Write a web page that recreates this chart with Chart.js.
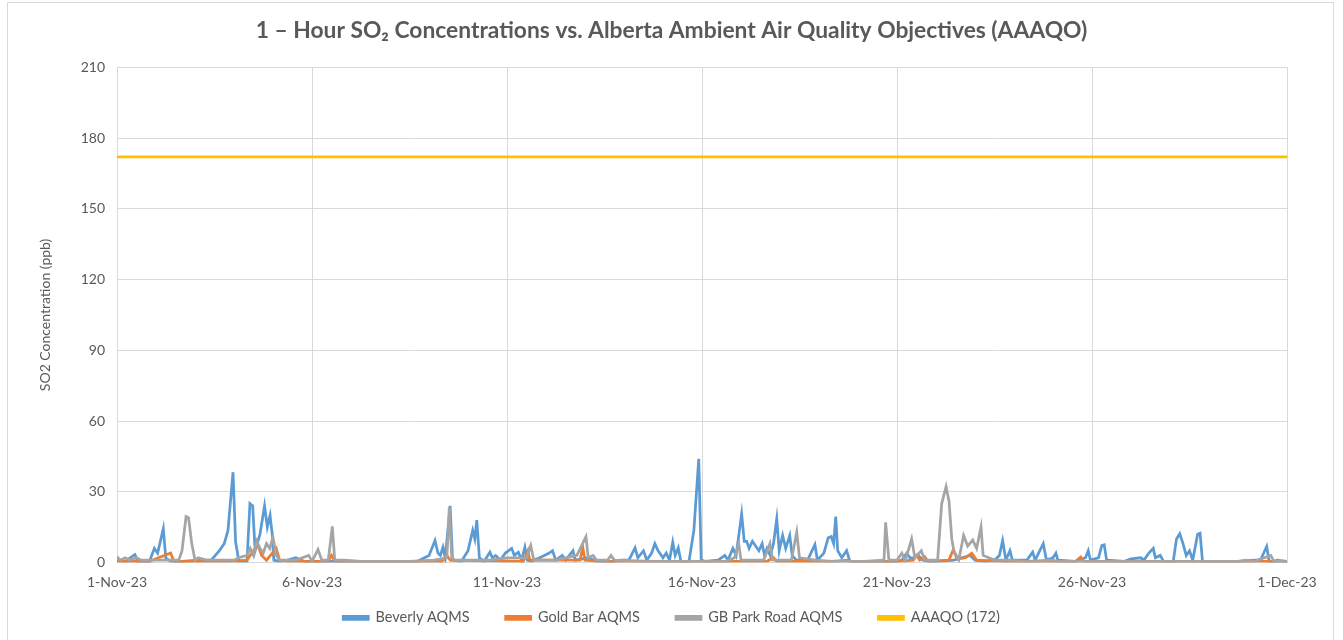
<!DOCTYPE html>
<html>
<head>
<meta charset="utf-8">
<script src="https://cdn.jsdelivr.net/npm/chart.js@4.4.0/dist/chart.umd.min.js"></script>
<style>
  body { margin: 0; background: #fff; }
  #frame { position: absolute; left: 7px; top: 2px; width: 1325px; height: 700px;
           border: 1px solid #d9d9d9; border-bottom: none; }
  #wrap { position: absolute; left: 0; top: 0; width: 1343px; height: 640px; }
</style>
</head>
<body>
<div id="frame"></div>
<div id="wrap"><canvas id="graph" width="1343" height="640"></canvas></div>
<script>
// x values are hours since 1-Nov-23 00:00
const tickLabels = ['1-Nov-23', '6-Nov-23', '11-Nov-23', '16-Nov-23', '21-Nov-23', '26-Nov-23', '1-Dec-23'];

const beverlyHours = [0, 5, 11, 13, 20, 23, 25, 28.5, 30, 33, 40, 50, 58, 63, 66, 68.3, 71.4, 73, 75, 80, 81.8, 83.5, 85, 88, 90.8, 92.5, 94.2, 95.5, 96.5, 100, 105, 110, 115, 130, 150, 170, 185, 192, 195.7, 197.5, 199, 200.6, 202, 205, 206.5, 212, 216, 218.9, 220.2, 221.4, 223, 226, 229.5, 231, 233, 236, 239, 242.9, 244.5, 247, 249, 251, 252.5, 255, 260, 263, 266, 268, 270, 274, 276, 280.6, 282, 290, 295, 305, 310, 315, 318.8, 320.5, 324, 326, 329, 331, 333, 336, 338, 340, 342, 343.5, 345.4, 347, 352, 355, 358, 359.5, 362, 370, 374, 376, 379, 381, 384.4, 386, 387.5, 389, 391, 393, 395, 397, 398.5, 400, 402, 404, 406, 407.5, 409.6, 411.5, 414, 415.5, 418, 425, 427, 429.5, 431, 435, 437.7, 439.5, 441, 442.3, 443.5, 446, 449, 451, 460, 480, 483, 486, 488, 490, 493, 496, 500, 505, 515, 520, 525, 528, 534, 540, 543, 545, 547, 549.5, 551, 556, 560, 563.5, 565, 570, 572, 576, 577.8, 579, 590, 596, 597.7, 599, 604, 606, 607.5, 609, 620, 624, 630, 632, 635, 637.7, 639, 642, 644, 650, 652, 654, 656, 658, 660, 662, 665, 666.5, 668, 690, 700, 702, 704, 707.5, 709, 715, 720];
const beverlyValues = [1, 0.5, 3.4, 0.5, 0.5, 6, 4, 14.4, 2, 0.5, 0.5, 1, 1, 5, 8, 13.6, 38.3, 8.6, 0.5, 0.5, 25, 24, 5, 12, 24, 15, 20, 12, 1, 0.5, 1, 2, 0.5, 0.5, 0.5, 0.5, 0.5, 3, 9.3, 4, 3, 6.5, 2, 24, 1, 0.5, 5, 13.6, 10, 18, 2, 0.5, 4.4, 2, 3, 1, 4, 6, 3, 4.4, 1, 6.5, 1, 0.5, 2, 3, 4, 5, 1, 3, 1, 5, 1, 2, 0.5, 0.5, 1, 1, 6.2, 2, 5, 1, 4, 8, 5, 2, 4, 1, 8.6, 3, 6.2, 0.5, 0.5, 13.6, 44, 1, 0.5, 1, 3, 1, 6, 3, 20.6, 9, 9, 6, 9, 7, 5, 8, 3, 6, 3, 8, 18.5, 5, 11.5, 6, 11.5, 3, 1, 1, 4, 7.6, 1, 4, 10.5, 11, 8, 19.5, 5, 2, 5, 0.5, 0.5, 0.5, 1, 4, 2, 2, 3, 1, 0.5, 0.5, 1, 2, 3, 1, 0.5, 1, 3, 9.3, 1, 5, 1, 1, 1, 4.4, 1, 8, 1, 2, 4, 1, 0.5, 2, 5, 1, 2, 7.2, 7.5, 1, 0.5, 1.5, 2, 1, 4, 6, 2, 3, 0.5, 0.5, 10, 12.2, 8, 3, 5, 1, 12, 12.4, 0.5, 0.5, 1, 1, 1.5, 6.8, 0.5, 0.5, 0.5];

const goldBarHours = [0, 20, 33, 35, 70, 80, 84, 86.8, 89, 92, 98, 100, 105, 130, 132, 134, 200, 203, 205, 250, 251, 252.9, 254, 285, 286.6, 288, 300, 400, 404, 406, 440, 450, 452, 480, 490, 492, 494, 497, 499, 512, 514.6, 517, 522, 526, 529, 545, 590, 593, 595, 712, 714, 720];
const goldBarValues = [0.5, 0.5, 4, 0.5, 0.5, 1, 5, 7.2, 3, 1, 6, 1, 0.5, 0.5, 3, 0.5, 0.5, 3, 1, 0.5, 2, 5, 1, 1, 6.5, 1, 0.5, 0.5, 2, 0.5, 0.5, 1, 0.5, 0.5, 1, 3, 1, 2.5, 0.5, 1, 5.4, 1.5, 2, 4, 1, 0.5, 0.5, 2.3, 0.5, 0.5, 1, 0.5];

const parkRoadHours = [0, 2, 5, 8, 12, 15, 20, 30, 38, 40, 42.5, 44, 46, 48, 50, 55, 60, 72, 75, 80, 82, 84, 86, 88, 90, 92, 94, 96, 98, 100, 110, 118, 120, 123.7, 126, 130, 132.5, 134, 140, 150, 180, 195, 203, 204.5, 206, 208, 215, 230, 240, 252, 254.6, 256.5, 270, 283, 288.6, 290, 293, 295, 302, 304, 306, 330, 375, 380, 382.6, 384, 398, 401.8, 403.5, 415, 418.3, 420, 430, 440, 460, 472, 473, 475, 480, 483, 485, 489, 491, 495, 497, 505, 507.5, 510.2, 512, 513.7, 515, 518, 521, 523.5, 526.6, 529, 531.7, 533, 540, 550, 560, 575, 580, 600, 690, 695, 700, 710, 712, 720];
const parkRoadValues = [2.5, 1, 2, 1, 2, 1, 1, 1, 1, 5, 19.5, 19, 8, 1, 2, 1, 1, 1, 2, 3, 6, 3, 9, 6, 4, 8, 6, 10.7, 3, 1, 1, 3, 0.5, 5.5, 1, 1, 15.3, 1, 1, 0.5, 0.5, 1, 2, 23.5, 2, 1, 1, 1, 2, 2, 7.2, 1, 1, 3, 11, 2, 3, 1, 1, 3, 1, 0.5, 0.5, 2, 8, 1, 1, 8, 1, 1, 12.9, 2, 1, 0.5, 0.5, 1, 17, 1, 1, 4, 0.5, 10, 2, 5, 1, 1, 25, 32.2, 26, 10, 5, 1, 11.5, 7, 9.5, 6, 15, 3, 1, 1, 0.5, 1, 0.5, 0.5, 0.5, 1, 0.5, 3, 0.5, 0.5];

const aaaqoHours = [0, 720];
const aaaqoValues = [172, 172];

function toPoints(xs, ys) {
    return xs.map((x, i) => ({ x: x, y: ys[i] }));
}

const textColor = '#595959';
const gridColor = '#d9d9d9';
const font = "Lato, 'Open Sans', sans-serif";

Chart.defaults.font.family = font;
Chart.defaults.color = textColor;

const graph = document.getElementById('graph');
new Chart(graph, {
    type: 'line',
    data: {
        datasets: [
            { label: 'Beverly AQMS', data: toPoints(beverlyHours, beverlyValues), borderColor: '#5b9bd5', backgroundColor: '#5b9bd5', order: 3 },
            { label: 'Gold Bar AQMS', data: toPoints(goldBarHours, goldBarValues), borderColor: '#ed7d31', backgroundColor: '#ed7d31', order: 2 },
            { label: 'GB Park Road AQMS', data: toPoints(parkRoadHours, parkRoadValues), borderColor: '#a5a5a5', backgroundColor: '#a5a5a5', order: 1 },
            { label: 'AAAQO (172)', data: toPoints(aaaqoHours, aaaqoValues), borderColor: '#ffc000', backgroundColor: '#ffc000', order: 0 }
        ]
    },
    options: {
        responsive: false,
        animation: false,
        elements: {
            point: { radius: 0 },
            line: { borderWidth: 2.75, tension: 0 }
        },
        layout: { padding: { left: 37, right: 37, top: 14, bottom: 5 } },
        plugins: {
            title: {
                display: true,
                text: '1 – Hour SO₂ Concentrations vs. Alberta Ambient Air Quality Objectives (AAAQO)',
                font: { size: 22.8, weight: 'bold' },
                color: textColor,
                padding: { top: 3, bottom: 23 }
            },
            legend: {
                position: 'bottom',
                labels: {
                    boxWidth: 25,
                    boxHeight: 3,
                    padding: 18,
                    font: { size: 14.5 },
                    color: textColor,
                    sort: (a, b) => a.datasetIndex - b.datasetIndex,
                    // wider gap between legend entries than the vertical padding
                    generateLabels: chart => Chart.defaults.plugins.legend.labels.generateLabels(chart).map(item => {
                        if (item.datasetIndex < 3) item.text += '\u2003\u2002';
                        return item;
                    })
                }
            },
            tooltip: { enabled: false }
        },
        scales: {
            x: {
                type: 'linear',
                min: 0,
                max: 720,
                afterFit: s => { s.height = 30; },
                ticks: {
                    stepSize: 120,
                    padding: 12,
                    font: { size: 14 },
                    color: textColor,
                    maxRotation: 0,
                    callback: v => tickLabels[v / 120]
                },
                grid: { color: gridColor, drawTicks: false },
                border: { color: gridColor }
            },
            y: {
                min: 0,
                max: 210,
                afterFit: s => { s.width = 80; },
                ticks: { stepSize: 30, padding: 12, font: { size: 14 }, color: textColor },
                grid: { color: gridColor, drawTicks: false },
                border: { color: gridColor },
                title: {
                    display: true,
                    text: 'SO2 Concentration (ppb)',
                    font: { size: 14 },
                    color: textColor,
                    padding: { top: 0, bottom: 12 }
                }
            },
            yRight: {
                position: 'right',
                min: 0,
                max: 210,
                afterFit: s => { s.width = 19; },
                ticks: { display: false },
                grid: { display: false },
                border: { display: false }
            }
        }
    }
});
</script>
</body>
</html>
